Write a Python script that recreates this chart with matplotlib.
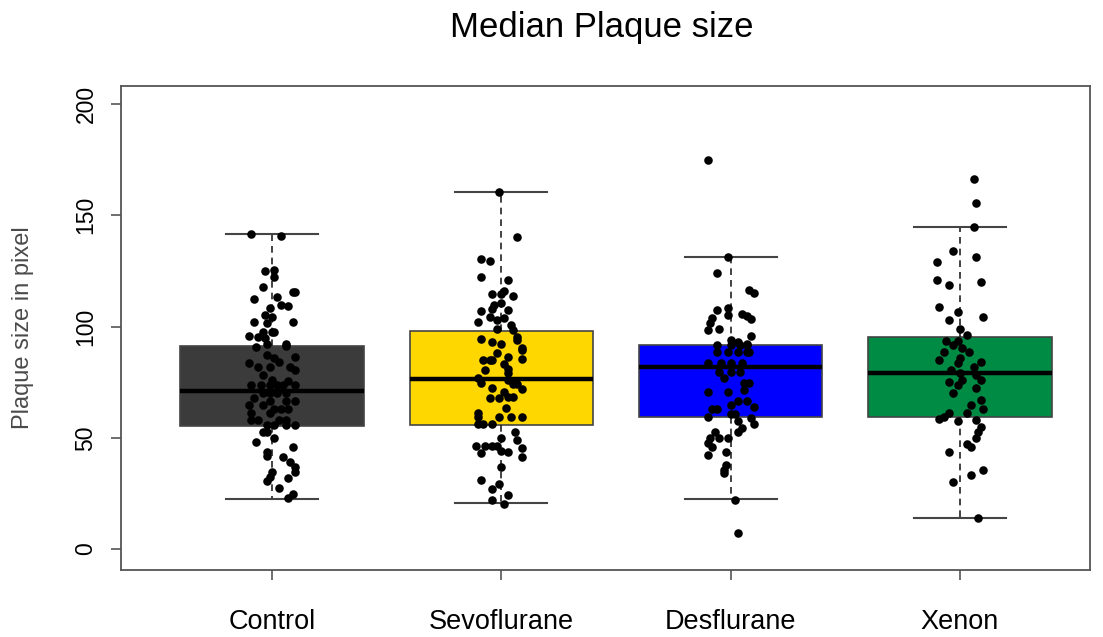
import numpy as np
import matplotlib
matplotlib.use('Agg')
import matplotlib.pyplot as plt

plt.rcParams['font.family'] = ['Liberation Sans', 'DejaVu Sans']

# groups and box summary
groups = ['Control', 'Sevoflurane', 'Desflurane', 'Xenon']
box_colors = ['#3b3b3b', '#FFD700', '#0000FF', '#008B45']
whis_lo = [22.3, 20.5, 22.3, 13.8]
q1 = [55.4, 55.7, 59.5, 59.5]
median = [71.0, 76.4, 81.7, 79.2]
q3 = [91.4, 98.0, 91.7, 95.4]
whis_hi = [141.4, 160.6, 131.1, 144.9]

# single measurements with their horizontal jitter (category units)
ctrl_y = [141.4, 140.8, 124.9, 125.2, 122.1, 117.6, 115.6, 115.6, 113.3, 112.4,
          109.7, 109.2, 108.5, 105.2, 104.4, 102.2, 101.7, 102.2, 97.7, 97.7,
          97.7, 95.9, 95.4, 94.7, 90.9, 92.0, 92.0, 91.2, 83.7, 81.9,
          81.9, 84.2, 86.4, 87.2, 81.9, 80.4, 78.2, 73.7, 73.7, 73.7,
          73.7, 73.7, 73.7, 70.1, 70.1, 70.1, 70.1, 66.5, 66.5, 66.5,
          64.7, 64.7, 62.9, 62.9, 62.9, 61.0, 61.0, 58.0, 58.0, 58.0,
          58.0, 55.7, 55.7, 55.7, 55.7, 52.4, 52.4, 48.2, 49.9, 43.7,
          42.0, 46.0, 41.5, 39.2, 37.0, 34.7, 32.5, 30.6, 31.8, 34.7,
          27.6, 24.6, 22.8, 76.0, 68.0, 75.5, 86.0]
ctrl_jit = [-0.09, 0.04, -0.03, 0.01, 0.01, -0.04, 0.09, 0.10, 0.02, -0.08,
            0.04, 0.07, -0.01, -0.03, 0.00, -0.08, -0.02, 0.09, -0.04, 0.00,
            0.01, -0.10, -0.06, -0.03, -0.07, -0.02, 0.06, 0.06, -0.10, -0.06,
            -0.01, 0.03, 0.10, -0.02, 0.08, 0.10, -0.04, -0.09, -0.05, -0.01,
            0.02, 0.05, 0.10, -0.04, -0.01, 0.02, 0.06, -0.01, 0.06, 0.10,
            -0.10, -0.04, 0.01, 0.04, 0.07, -0.09, -0.01, -0.09, -0.06, 0.03,
            0.06, -0.02, 0.01, 0.06, 0.10, -0.04, -0.02, -0.07, 0.01, -0.02,
            -0.02, 0.09, 0.05, 0.08, 0.10, 0.00, -0.01, -0.02, 0.07, 0.10,
            0.03, 0.09, 0.07, 0.00, -0.08, 0.07, 0.01]

sevo_y = [160.6, 140.4, 130.3, 129.4, 122.4, 120.9, 114.5, 116.0, 114.5, 113.7,
          109.7, 107.9, 110.4, 107.4, 107.0, 104.4, 102.9, 104.0, 101.9, 98.9,
          100.7, 98.4, 94.4, 93.2, 92.0, 95.4, 93.9, 90.3, 89.4, 85.4,
          85.0, 85.0, 85.0, 86.4, 81.0, 79.0, 80.4, 76.7, 74.5, 76.0,
          74.0, 74.0, 72.0, 72.2, 70.5, 68.3, 68.3, 67.7, 67.7, 63.2,
          61.0, 59.5, 59.3, 59.3, 59.3, 56.0, 56.0, 56.0, 49.8, 52.4,
          49.0, 46.5, 46.5, 46.5, 46.5, 44.0, 43.7, 43.0, 45.3, 41.5,
          37.0, 31.0, 29.1, 27.0, 24.3, 22.0, 20.1, 88.0, 83.0]
sevo_jit = [-0.01, 0.07, -0.09, -0.05, -0.09, 0.03, -0.04, 0.01, 0.00, 0.05,
            -0.03, -0.04, 0.00, 0.03, -0.09, -0.05, -0.02, 0.01, -0.10, -0.02,
            0.04, 0.05, -0.09, -0.04, 0.00, 0.07, 0.07, 0.09, 0.09, 0.09,
            -0.08, -0.05, -0.04, 0.03, 0.03, 0.03, -0.07, -0.10, -0.09, 0.03,
            0.05, 0.07, 0.09, -0.04, 0.01, 0.03, 0.05, -0.05, -0.01, 0.02,
            -0.10, -0.10, -0.01, 0.04, 0.09, -0.10, -0.08, -0.04, 0.00, 0.06,
            0.07, -0.11, -0.07, -0.04, -0.02, 0.00, 0.03, -0.09, 0.09, 0.09,
            0.00, -0.09, -0.01, -0.04, 0.03, -0.04, 0.01, -0.02, 0.01]

des_y = [174.8, 131.1, 124.2, 116.4, 114.9, 107.4, 108.2, 105.2, 105.6, 104.5,
         103.5, 103.7, 101.4, 98.4, 98.7, 95.7, 94.0, 93.0, 92.0, 91.5,
         91.5, 91.5, 91.5, 88.5, 88.5, 88.5, 88.5, 88.5, 83.6, 83.6,
         83.6, 83.6, 79.6, 79.6, 79.6, 76.7, 74.6, 74.6, 71.5, 70.5,
         70.5, 66.5, 66.5, 64.7, 62.9, 62.9, 64.0, 60.7, 60.7, 59.2,
         58.7, 56.2, 57.7, 52.7, 54.2, 52.4, 50.0, 50.0, 50.0, 47.5,
         46.0, 43.7, 42.2, 37.8, 35.3, 34.0, 22.0, 7.1]
des_jit = [-0.10, -0.01, -0.06, 0.08, 0.10, -0.06, -0.01, -0.01, 0.05, 0.07,
           0.09, -0.08, -0.09, -0.10, -0.05, 0.09, 0.00, 0.03, 0.07, -0.06,
           0.00, 0.04, 0.07, -0.06, -0.01, 0.03, 0.07, 0.08, -0.10, -0.04,
           0.00, 0.05, -0.05, 0.00, 0.04, -0.03, 0.06, 0.08, 0.06, -0.10,
           -0.01, 0.03, 0.07, 0.00, -0.08, -0.06, 0.10, 0.00, 0.02, -0.10,
           0.09, 0.10, 0.03, 0.03, 0.05, -0.07, -0.09, -0.05, -0.01, -0.10,
           -0.08, -0.02, -0.10, -0.02, -0.03, -0.03, 0.02, 0.03]

xen_y = [166.2, 155.6, 144.9, 134.1, 131.4, 128.8, 120.9, 118.7, 120.1, 108.9,
         106.7, 102.9, 104.4, 98.7, 96.2, 93.6, 93.6, 91.7, 90.2, 88.5,
         88.5, 84.9, 85.7, 84.2, 81.9, 83.4, 80.4, 79.0, 76.0, 78.2,
         76.0, 75.2, 73.7, 70.2, 72.2, 67.0, 64.7, 62.8, 61.0, 61.0,
         59.5, 58.5, 57.7, 58.0, 55.0, 52.4, 50.0, 47.2, 45.7, 43.7,
         33.3, 35.5, 30.3, 13.8]
xen_jit = [0.06, 0.07, 0.06, -0.03, 0.07, -0.10, -0.10, -0.05, 0.09, -0.09,
           -0.01, -0.05, 0.10, 0.00, 0.03, -0.06, -0.01, -0.03, 0.01, -0.07,
           0.04, -0.09, 0.00, 0.09, 0.06, -0.01, -0.04, 0.00, 0.01, 0.07,
           0.09, -0.05, -0.01, -0.03, 0.07, 0.09, 0.05, 0.10, 0.03, -0.05,
           -0.07, -0.09, -0.01, 0.07, 0.09, 0.08, 0.07, 0.03, 0.05, -0.05,
           0.05, 0.10, -0.03, 0.08]

points = [(ctrl_y, ctrl_jit), (sevo_y, sevo_jit), (des_y, des_jit), (xen_y, xen_jit)]

fig = plt.figure(figsize=(11.03, 6.37), dpi=100)
ax = fig.add_axes([121 / 1103, 1 - 570 / 637, (1090 - 121) / 1103, (570 - 86) / 637])

pos = np.arange(1, len(groups) + 1)
stats = [dict(label=g, whislo=lo, q1=a, med=m, q3=b, whishi=hi, fliers=[])
         for g, lo, a, m, b, hi in zip(groups, whis_lo, q1, median, q3, whis_hi)]
bp = ax.bxp(stats, positions=pos, widths=0.8, capwidths=0.4, patch_artist=True,
            showfliers=False,
            boxprops=dict(edgecolor='#444444', linewidth=1.2),
            medianprops=dict(color='black', linewidth=3.2),
            whiskerprops=dict(color='#222222', linewidth=1.2, linestyle=(0, (4, 3))),
            capprops=dict(color='#444444', linewidth=1.5))
for patch, col in zip(bp['boxes'], box_colors):
    patch.set_facecolor(col)

for p, (ys, jit) in zip(pos, points):
    ax.scatter(p + np.array(jit), ys, s=38, c='black', linewidths=0, zorder=4)

ax.set_xlim(0.3415, 4.567)
ax.set_ylim(-9.44, 208.1)
ax.set_yticks([0, 50, 100, 150, 200])
ax.set_xticks(pos)
ax.set_xticklabels(groups)
plt.setp(ax.get_yticklabels(), rotation=90, va='center')
ax.tick_params(axis='y', length=7, width=1.2, pad=10, labelsize=16.5, color='#555555')
ax.tick_params(axis='x', length=7, width=1.2, pad=21, labelsize=19.5, color='#555555')
for s in ax.spines.values():
    s.set_color('#555555')
    s.set_linewidth(1.3)

ax.set_ylabel('Plaque size in pixel', fontsize=17, color='#4a4a4a')
ax.yaxis.set_label_coords(-0.09, 0.5)

fig.text(602 / 1103, 1 - 27 / 637, 'Median Plaque size', ha='center', va='center', fontsize=25)

fig.savefig('out.png', dpi=100)
